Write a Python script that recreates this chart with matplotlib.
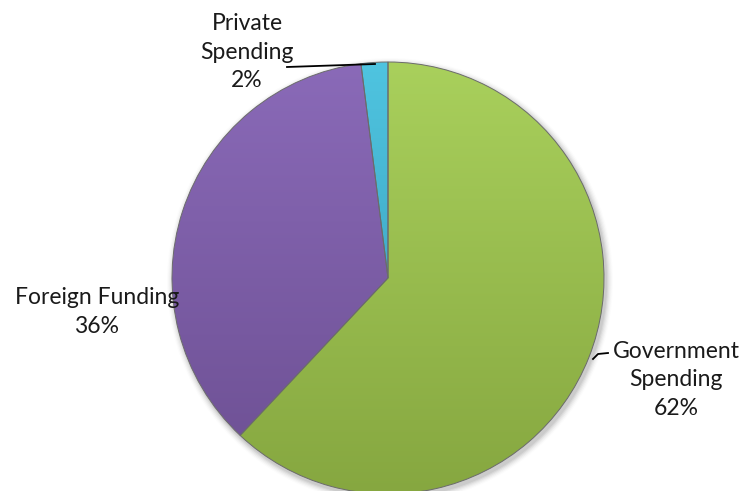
import numpy as np
import matplotlib.pyplot as plt
from matplotlib.colors import LinearSegmentedColormap

# funding shares, drawn clockwise from 12 o'clock
labels = ["Government\nSpending", "Foreign Funding", "Private\nSpending"]
shares = [62, 36, 2]
top_colors = ["#a9d05c", "#8a6ab8", "#4fc4e0"]
bottom_colors = ["#86a740", "#6c4f92", "#3496b2"]

W, H = 747, 491
fig = plt.figure(figsize=(W / 100, H / 100), dpi=100)
ax = fig.add_axes([0, 0, 1, 1])

cx, cy, r = 388, 213, 216

# soft drop shadow behind the pie
for k, a in enumerate(np.linspace(0.06, 0.012, 6)):
    sh = plt.Circle((cx + 2, cy - 3), r + 1 + k * 1.2, color="black", alpha=a, lw=0, zorder=0)
    ax.add_patch(sh)

wedges, _ = ax.pie(shares, startangle=90, counterclock=False, center=(cx, cy),
                   radius=r, colors=top_colors, frame=True,
                   wedgeprops=dict(linewidth=0.7, edgecolor="#6b6b6b"))
ax.set_xlim(0, W)
ax.set_ylim(0, H)
ax.set_aspect("equal")
ax.axis("off")

# vertical shading inside each wedge
grad = np.linspace(0, 1, 256).reshape(-1, 1)
for w, c1, c2 in zip(wedges, top_colors, bottom_colors):
    cmap = LinearSegmentedColormap.from_list("shade", [c2, c1])
    im = ax.imshow(grad, cmap=cmap, origin="lower", aspect="auto",
                   extent=(cx - r, cx + r, cy - r, cy + r), zorder=1.5)
    im.set_clip_path(w)
    w.set_facecolor("none")
    w.set_zorder(2)

txt = dict(fontsize=16.5, family="Lato", color="#1a1a1a", ha="center", va="center",
           linespacing=1.42)
ax.text(676, H - 380, labels[0] + "\n62%", **txt)
ax.text(97, H - 312, labels[1] + "\n36%", **txt)
ax.text(247, H - 52, labels[2] + "\n2%", **txt)

# leader lines
ax.plot([287, 375], [H - 67, H - 64], color="black", lw=1.3, zorder=3)
ax.plot([593, 598, 608], [H - 359, H - 354, H - 353], color="black", lw=1.3, zorder=3)

fig.savefig("out.png", dpi=100)
